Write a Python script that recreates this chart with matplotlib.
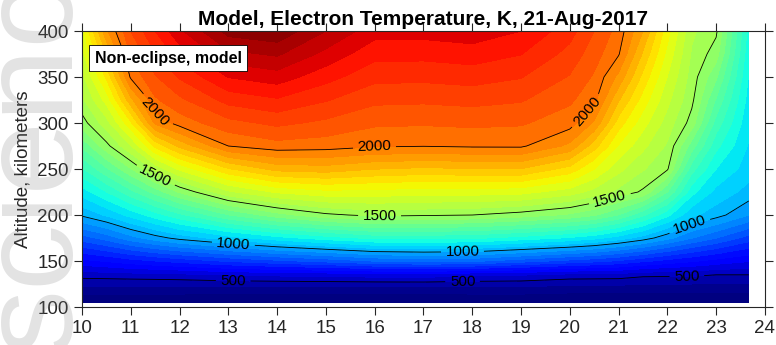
import numpy as np
import matplotlib
matplotlib.use('Agg')
import matplotlib.pyplot as plt

plt.rcParams['font.family'] = ['Liberation Sans', 'DejaVu Sans']

# UT hours (columns) and altitudes (km) of the model grid
hours = [10, 10.5, 11, 11.5, 12, 13, 14, 15, 16, 17, 18, 19, 20, 20.5, 21, 21.5, 22, 22.5, 23, 23.67]
altitudes = [105, 120, 135, 150, 175, 200, 225, 250, 275, 300, 325, 350, 375, 400]

# electron temperature (K), one profile per hour, bottom -> top
te_k = [
    [350, 433, 523, 636, 826, 1009, 1126, 1243, 1360, 1477, 1538, 1585, 1632, 1680],
    [350, 433, 526, 655, 871, 1057, 1199, 1341, 1483, 1579, 1669, 1759, 1849, 1940],
    [350, 433, 530, 680, 930, 1118, 1283, 1447, 1598, 1741, 1885, 2009, 2055, 2100],
    [350, 433, 533, 700, 978, 1177, 1369, 1563, 1762, 1960, 2042, 2095, 2147, 2200],
    [350, 433, 537, 720, 1018, 1237, 1456, 1661, 1863, 2022, 2089, 2156, 2223, 2290],
    [340, 430, 554, 757, 1076, 1348, 1590, 1795, 2000, 2084, 2168, 2252, 2336, 2420],
    [340, 430, 561, 788, 1131, 1429, 1658, 1867, 2030, 2112, 2194, 2276, 2358, 2440],
    [340, 430, 567, 817, 1175, 1488, 1685, 1877, 2023, 2089, 2154, 2219, 2285, 2350],
    [340, 430, 574, 852, 1213, 1514, 1682, 1851, 2006, 2059, 2112, 2165, 2217, 2270],
    [340, 430, 577, 865, 1214, 1507, 1673, 1840, 2002, 2056, 2109, 2163, 2216, 2270],
    [350, 433, 560, 860, 1209, 1500, 1674, 1847, 2007, 2061, 2116, 2171, 2226, 2280],
    [350, 433, 554, 822, 1179, 1476, 1667, 1848, 2008, 2056, 2105, 2153, 2202, 2250],
    [345, 425, 533, 783, 1143, 1440, 1625, 1781, 1938, 2022, 2059, 2096, 2133, 2170],
    [345, 425, 531, 766, 1116, 1407, 1582, 1702, 1822, 1942, 2015, 2043, 2072, 2100],
    [345, 425, 529, 743, 1076, 1348, 1535, 1616, 1696, 1776, 1856, 1936, 2005, 2030],
    [340, 420, 513, 711, 1028, 1259, 1491, 1555, 1613, 1670, 1728, 1785, 1843, 1900],
    [340, 420, 511, 682, 966, 1164, 1351, 1507, 1543, 1578, 1614, 1649, 1685, 1720],
    [340, 420, 510, 657, 902, 1063, 1167, 1271, 1375, 1479, 1513, 1528, 1544, 1560],
    [340, 420, 500, 632, 851, 1021, 1085, 1150, 1215, 1280, 1344, 1409, 1474, 1510],
    [340, 420, 500, 604, 778, 951, 1031, 1075, 1095, 1112, 1129, 1146, 1163, 1180],
]

line_levels = [500, 1000, 1500, 2000]

Z = np.array(te_k).T

fig = plt.figure(figsize=(7.76, 3.45), dpi=100)
ax = fig.add_axes([0.1057, 0.1101, 0.88, 0.80])

ax.contourf(hours, altitudes, Z, levels=np.arange(300, 2501, 50), cmap='jet', vmin=400, vmax=2450)
cs = ax.contour(hours, altitudes, Z, levels=line_levels, colors='k', linewidths=0.6)
label_spots = [(13.1, 131), (17.8, 132), (22.4, 135),
               (13.1, 166), (17.8, 157), (22.5, 183),
               (11.5, 242), (16.1, 198), (20.85, 212),
               (11.45, 310), (16.0, 270), (20.4, 310)]
ax.clabel(cs, fmt='%d', fontsize=11, inline=True, manual=label_spots)

ax.set_xlim(10, 24)
ax.set_ylim(100, 400)
ax.set_xticks(range(10, 25))
ax.set_yticks(range(100, 401, 50))
ax.tick_params(direction='out', length=6, width=0.8, colors='0.15', labelsize=13.5,
               top=True, right=True)
for s in ax.spines.values():
    s.set_color('0.15')
    s.set_linewidth(0.8)

ax.set_ylabel('Altitude, kilometers', fontsize=13.5, color='0.15', labelpad=4)
ax.set_title('Model, Electron Temperature, K, 21-Aug-2017', fontsize=15,
             fontweight='bold', pad=4)

ax.text(0.126, 0.902, 'Non-eclipse, model', transform=ax.transAxes, ha='center', va='center',
        fontsize=11.5, fontweight='bold',
        bbox=dict(boxstyle='square,pad=0.35', fc='white', ec='black', lw=0.6))

# faint watermark at the left edge
fig.text(-0.035, -0.02, 'science', rotation=90, fontsize=95, color='0.5', alpha=0.22,
         ha='left', va='bottom')

fig.savefig('out.png', dpi=100)
